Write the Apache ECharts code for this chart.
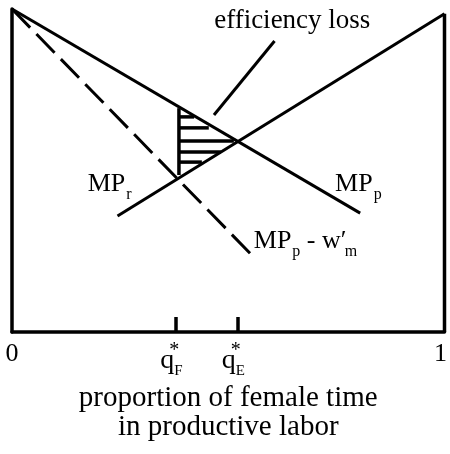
<!DOCTYPE html>
<html>
<head>
<meta charset="utf-8">
<title>efficiency loss</title>
<script src="https://cdn.jsdelivr.net/npm/echarts@6/dist/echarts.min.js"></script>
<style>
html, body { margin: 0; padding: 0; background: #fff; }
#chart { width: 450px; height: 454px; }
</style>
</head>
<body>
<div id="chart"></div>
<script>
/* 曲线端点 (x: 女性时间比例 0..1, y: 相对值 0..1) */
var mpP = [[0, 1.0], [0.805, 0.368]];
var mpR = [[0.244, 0.359], [1.0, 0.985]];
var mpPw = [[0, 1.0], [0.559, 0.232]];

/* 横轴刻度 */
var tickValues = [0, 0.379, 0.522, 1];
var tickLabels = ['0', 'q', 'q', '1'];
var tickSubs = ['', 'F', 'E', ''];
var markTicks = [0.379, 0.522];

/* 阴影区 (效率损失) */
var hatchX = 0.386;
var hatchTop = 0.693;
var hatchBottom = 0.486;
var hatchY = [0.666, 0.632, 0.591, 0.557, 0.526];
var hatchEnd = [0.421, 0.455, 0.513, 0.483, 0.439];

/* 指示线 */
var pointer = [[0.607, 0.901], [0.467, 0.672]];

/* 右边框 */
var rightEdge = [[1, 0], [1, 0.985]];

var FONT = 'Liberation Serif';

function seg(data, width, type) {
    return {
        type: 'line',
        data: data,
        symbol: 'none',
        clip: false,
        silent: true,
        lineStyle: { color: '#000', width: width, type: type || 'solid', cap: 'butt', opacity: 1 }
    };
}

var chart = echarts.init(document.getElementById('chart'));

var series = [];
series.push(seg(mpP, 3));
series.push(seg(mpR, 3));
series.push(seg(mpPw, 3, [26, 9]));
series.push(seg(rightEdge, 3.5));
series.push(seg(pointer, 3));
series.push(seg([[hatchX, hatchTop], [hatchX, hatchBottom]], 3.5));
for (var i = 0; i < hatchY.length; i++) {
    series.push(seg([[hatchX, hatchY[i]], [hatchEnd[i], hatchY[i]]], 3.5));
}

var richMP = {
    m: { fontFamily: FONT, fontSize: 26, color: '#000' },
    pr: { fontFamily: FONT, fontSize: 26, color: '#000', width: 3 },
    s: { fontFamily: FONT, fontSize: 16, color: '#000', padding: [22, 0, 0, 1] }
};

// 文字标注
series.push({
    type: 'scatter',
    symbolSize: 0,
    clip: false,
    silent: true,
    itemStyle: { opacity: 1 },
    data: [
        { value: [0.648, 0.962], label: { align: 'center', formatter: '{e|efficiency loss}' } },
        { value: [0.175, 0.458], label: { formatter: '{m|MP}{s|r}' } },
        { value: [0.747, 0.458], label: { formatter: '{m|MP}{s|p}' } },
        { value: [0.559, 0.282], label: { formatter: '{m|MP}{s|p}{m| - w}{pr|\u2032}{s|m}' } }
    ],
    label: {
        show: true,
        position: 'inside',
        align: 'left',
        verticalAlign: 'middle',
        fontFamily: FONT,
        color: '#000',
        opacity: 1,
        rich: Object.assign({ e: { fontFamily: FONT, fontSize: 27, color: '#000' } }, richMP)
    }
});

var option = {
    animation: false,
    backgroundColor: '#fff',
    grid: { left: 12, right: 3, top: 9, bottom: 122 },
    xAxis: {
        type: 'value',
        min: 0,
        max: 1,
        splitLine: { show: false },
        axisLine: { show: true, onZero: false, lineStyle: { color: '#000', width: 3.5 } },
        axisTick: {
            show: true,
            inside: true,
            length: 15,
            customValues: markTicks,
            lineStyle: { color: '#000', width: 3.5 }
        },
        axisLabel: {
            show: true,
            customValues: tickValues,
            margin: 9,
            formatter: function (v) {
                var i = tickValues.indexOf(v);
                if (i < 0) return '';
                if (tickSubs[i]) {
                    return '{q|' + tickLabels[i] + '}{st|*}{sb|' + tickSubs[i] + '}';
                }
                if (i === tickValues.length - 1) return '{one|' + tickLabels[i] + '}';
                return '{n|' + tickLabels[i] + '}';
            },
            rich: {
                n: { fontFamily: FONT, fontSize: 26, color: '#000' },
                one: { fontFamily: FONT, fontSize: 26, color: '#000', padding: [0, 8, 0, 0] },
                q: { fontFamily: FONT, fontSize: 28, color: '#000' },
                st: { fontFamily: FONT, fontSize: 20, color: '#000', width: 0, padding: [0, 0, 20, 0] },
                sb: { fontFamily: FONT, fontSize: 15, color: '#000', padding: [20, 9, 0, 0] }
            }
        },
        name: 'proportion of female time\nin productive labor',
        nameLocation: 'middle',
        nameGap: 45,
        nameTextStyle: { fontFamily: FONT, fontSize: 29, color: '#000', lineHeight: 29 }
    },
    yAxis: {
        type: 'value',
        min: 0,
        max: 1,
        splitLine: { show: false },
        axisLabel: { show: false },
        axisTick: { show: false },
        axisLine: { show: true, onZero: false, lineStyle: { color: '#000', width: 3.5 } }
    },
    series: series
};

chart.setOption(option);
</script>
</body>
</html>
